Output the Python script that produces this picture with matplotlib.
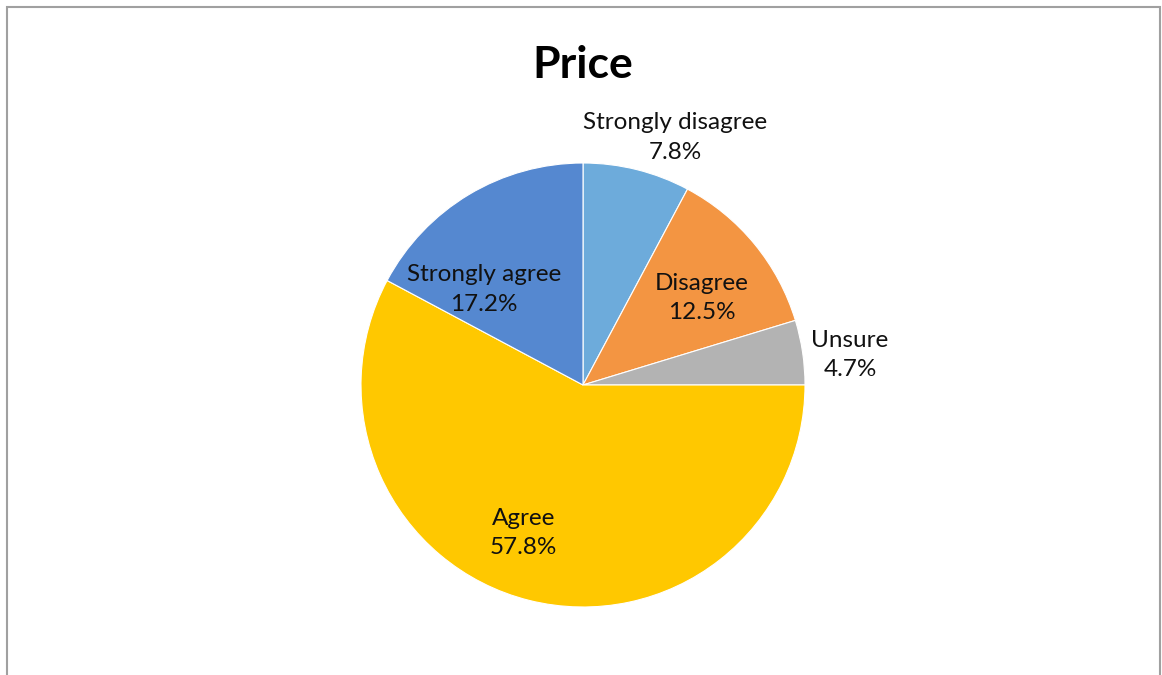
import matplotlib
matplotlib.use("Agg")
import matplotlib.pyplot as plt
from matplotlib.patches import Rectangle
import numpy as np

categories = ["Strongly disagree", "Disagree", "Unsure", "Agree", "Strongly agree"]
values = [7.8, 12.5, 4.7, 57.8, 17.2]
colors = ["#6DABDB", "#F39542", "#B3B3B3", "#FFC800", "#5588D0"]
title = "Price"

# label positions (radius fraction, angle in degrees) chosen to mimic the reference
label_pos = [(1.19, 69.6), (0.664, 36.2), (1.21, 6.4), (0.72, -112.0), (0.62, 136.0)]

plt.rcParams['font.family'] = ['Lato', 'DejaVu Sans']

W, H = 1162, 675
fig = plt.figure(figsize=(W / 100, H / 100), dpi=100)
fig.patch.set_facecolor("white")

cx, cy, r = 583, 385, 222
ax = fig.add_axes([(cx - r) / W, (H - cy - r) / H, 2 * r / W, 2 * r / H])
ax.pie(values, colors=colors, startangle=90, counterclock=False, radius=1.0,
       wedgeprops=dict(linewidth=0.8, edgecolor="white"))
ax.set_xlim(-1, 1)
ax.set_ylim(-1, 1)
ax.set_aspect("equal")
ax.axis("off")

for cat, v, (d, a) in zip(categories, values, label_pos):
    x = d * np.cos(np.radians(a))
    y = d * np.sin(np.radians(a))
    ax.text(x, y, f"{cat}\n{v:.1f}%", ha="center", va="center", fontsize=17.5,
            color="#111111", linespacing=1.5, clip_on=False)

fig.text(cx / W, 1 - 65 / H, title, ha="center", va="center", fontsize=32,
         fontweight="bold", color="#000000")

fig.patches.append(Rectangle((7 / W, -0.05), (1160 - 7) / W, 1 - 7 / H + 0.05,
                             transform=fig.transFigure, fill=False,
                             edgecolor="#A0A0A0", linewidth=1.5))

fig.savefig("out.png", dpi=100)
